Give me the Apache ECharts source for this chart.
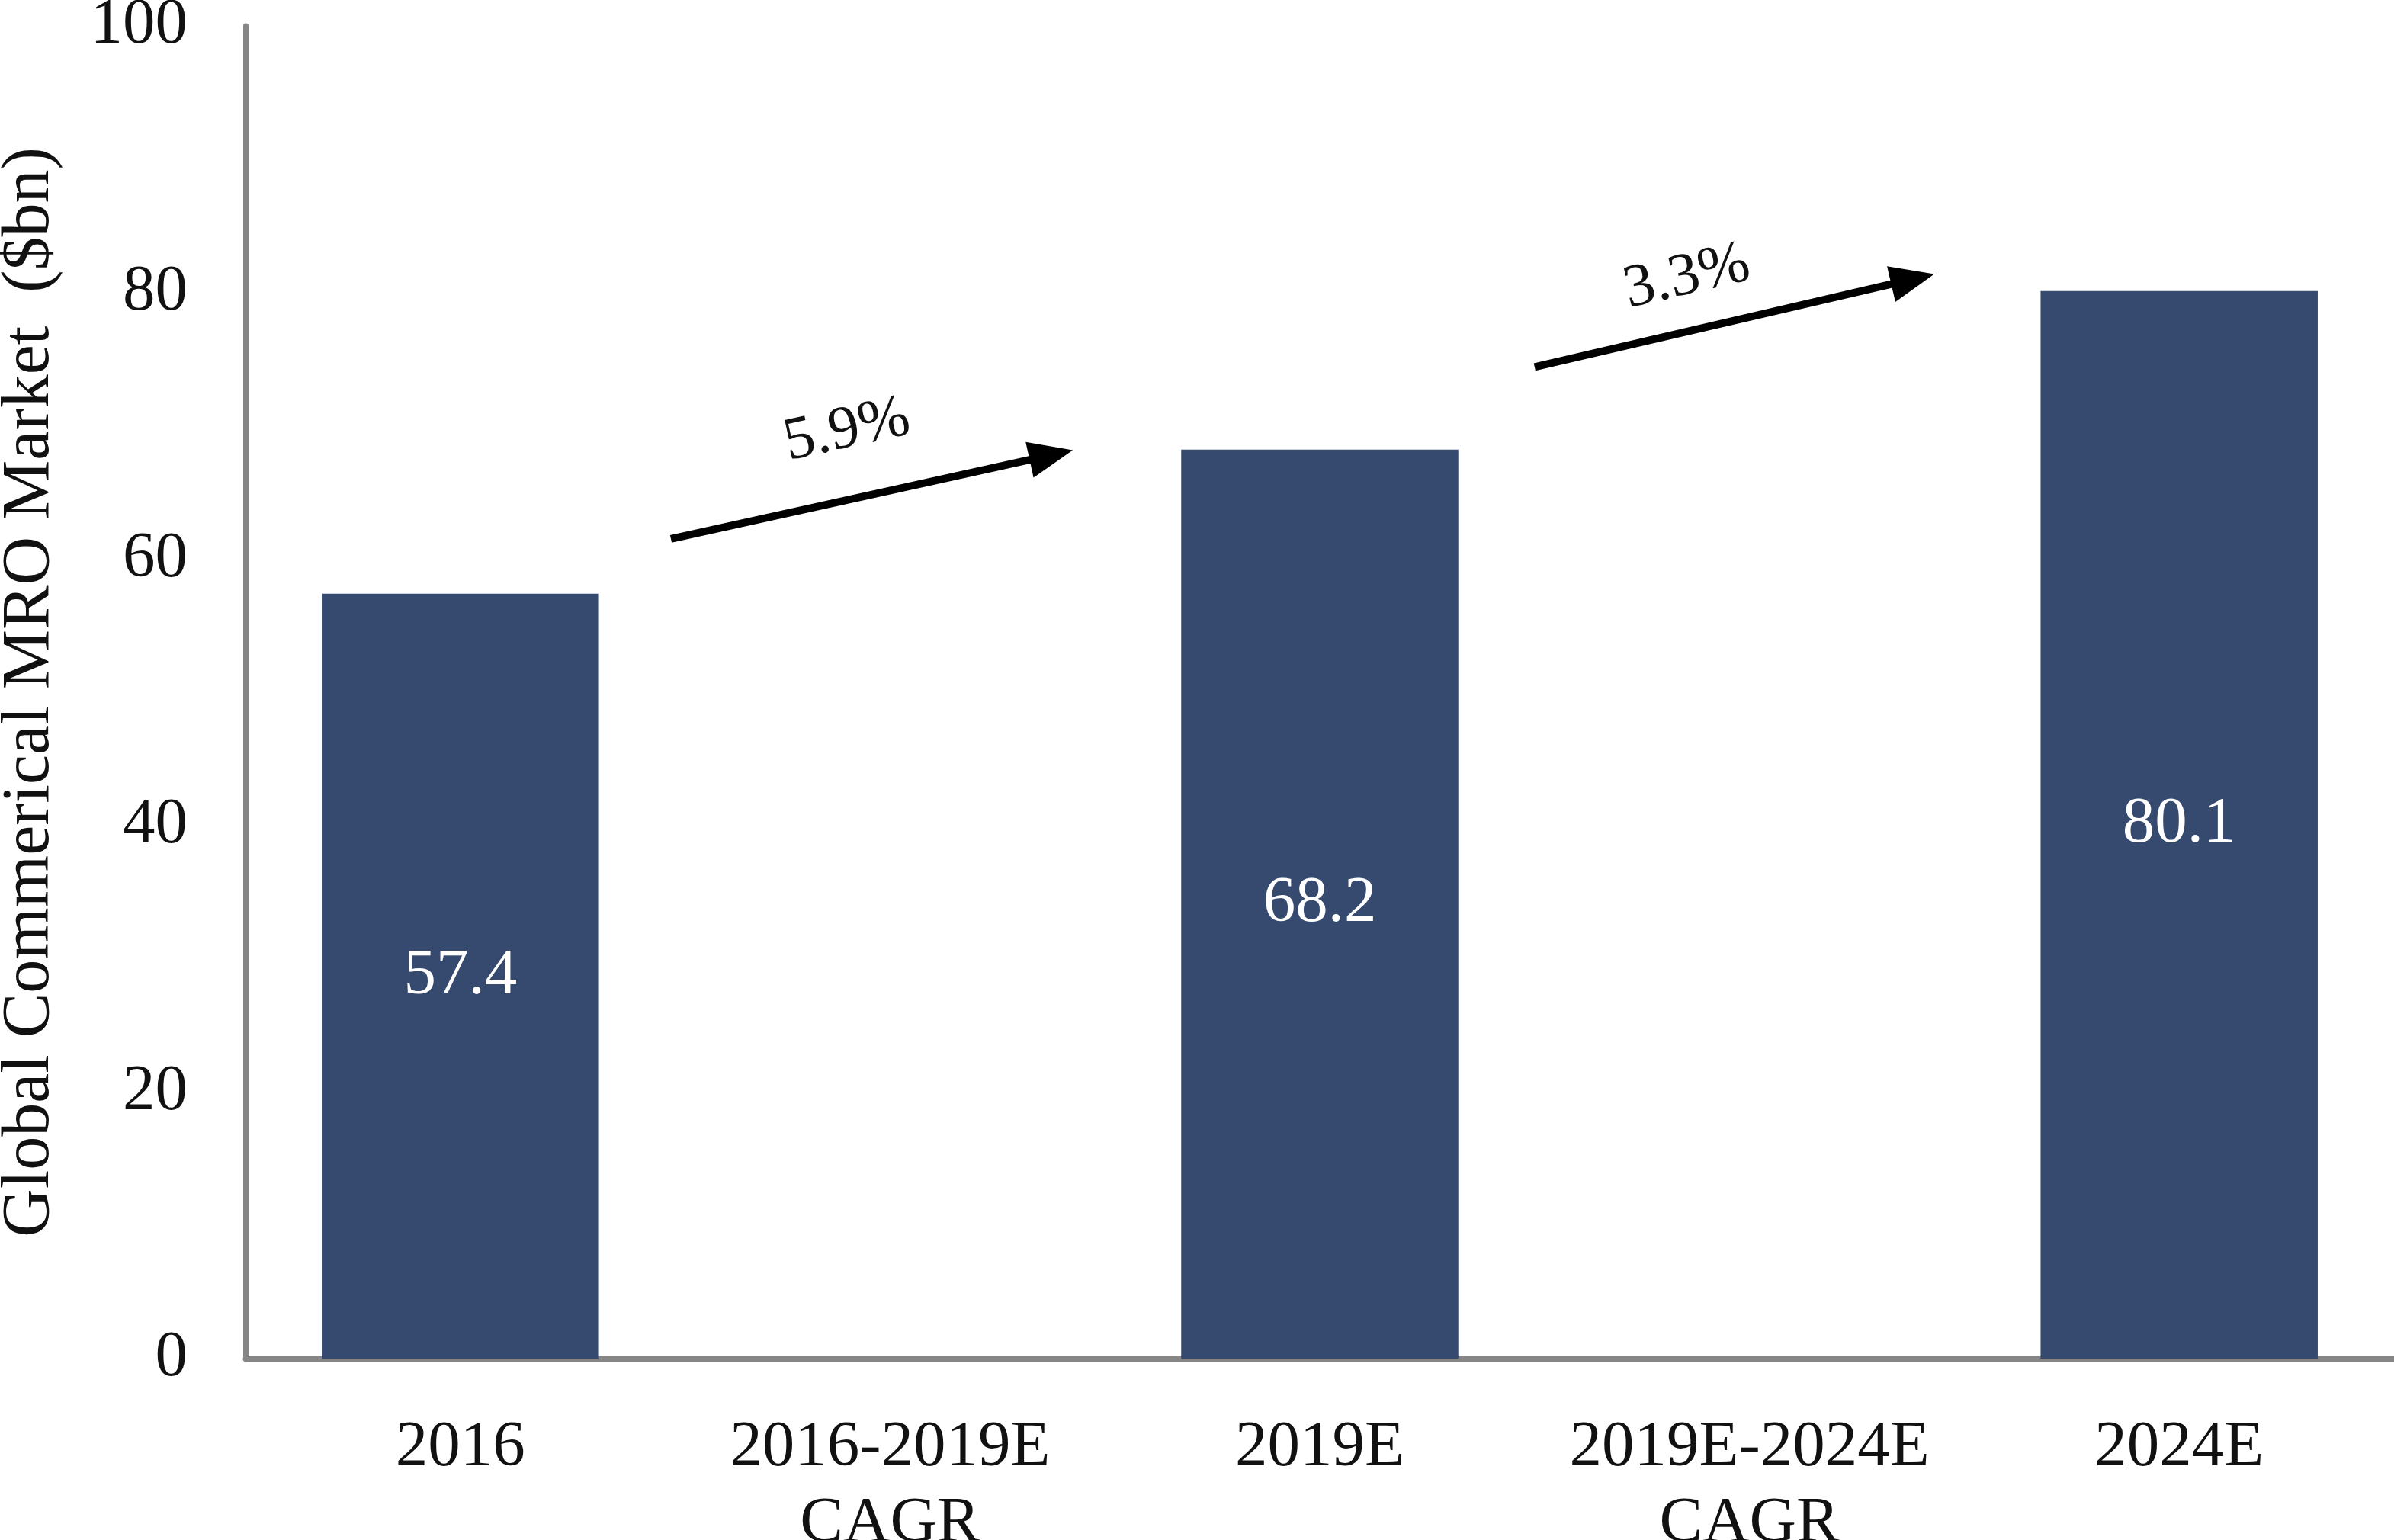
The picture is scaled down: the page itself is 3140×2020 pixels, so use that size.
<!DOCTYPE html>
<html>
	<head>
		<meta charset="utf-8">
		<title>Global Commerical MRO Market</title>
		<script type="text/javascript" src="https://cdn.jsdelivr.net/npm/echarts@6/dist/echarts.min.js"></script>
		<style>
			html, body { margin: 0; padding: 0; background: #ffffff; }
		</style>
	</head>
	<body>
		<div id="mro_chart" style="width:3140px;height:2020px;"></div>
	</body>
	<script type="text/javascript">

// categories on the x axis (CAGR slots carry no bar)
var categories = ['2016', '2016-2019E\nCAGR', '2019E', '2019E-2024E\nCAGR', '2024E'];
// market size, $bn
var marketValues = [57.4, '-', 68.2, '-', 80.1];
// CAGR text over each arrow
var cagrLabels = ['5.9%', '3.3%'];
var yTicks = { min: 0, max: 100, interval: 20 };

// arrow ends in (hidden x 0..5, y value) space
var arrowPaths = [
	[[0.99, 61.5], [1.875, 67.8]],
	[[3.0, 74.4], [3.88, 81.0]]
];
var labelGaps = [50, 30];
var labelShift = [[-10, 0], [-40, 0]];

var fontName = 'Liberation Serif';
var chartDom = document.getElementById('mro_chart');
var myChart = echarts.init(chartDom);

var arrowData = [];
for (var i = 0; i < arrowPaths.length; i++) {
	arrowData.push([
		{ coord: arrowPaths[i][0], label: { formatter: cagrLabels[i], distance: labelGaps[i], offset: labelShift[i] } },
		{ coord: arrowPaths[i][1] }
	]);
}

var option = {
	animation: false,
	backgroundColor: '#ffffff',
	grid: { left: 322, right: 0, top: 34, bottom: 238, containLabel: false, outerBoundsMode: 'none' },
	xAxis: [
		{
			type: 'category',
			data: categories,
			boundaryGap: true,
			axisLine: { show: true, lineStyle: { color: '#868686', width: 7 } },
			axisTick: { show: false },
			axisLabel: {
				color: '#111111',
				fontFamily: fontName,
				fontSize: 85,
				lineHeight: 100,
				margin: 68,
				interval: 0
			}
		},
		{
			// helper axis for the CAGR arrows
			type: 'value',
			min: 0,
			max: 5,
			show: false
		}
	],
	yAxis: {
		type: 'value',
		min: yTicks.min,
		max: yTicks.max,
		interval: yTicks.interval,
		name: 'Global Commerical MRO Market  ($bn)',
		nameLocation: 'middle',
		nameGap: 238,
		nameTextStyle: { color: '#111111', fontFamily: fontName, fontSize: 88 },
		axisLine: { show: true, lineStyle: { color: '#868686', width: 7 } },
		axisTick: { show: false },
		splitLine: { show: false },
		axisLabel: { color: '#111111', fontFamily: fontName, fontSize: 85, margin: 76 }
	},
	series: [
		{
			name: 'MRO market',
			type: 'bar',
			data: marketValues,
			barWidth: '64.5%',
			itemStyle: { color: '#364a6f' },
			label: {
				show: true,
				position: 'inside',
				color: '#ffffff',
				fontFamily: fontName,
				fontSize: 85
			}
		},
		{
			name: 'CAGR arrows',
			type: 'line',
			xAxisIndex: 1,
			yAxisIndex: 0,
			data: [],
			silent: true,
			markLine: {
				silent: true,
				symbol: ['none', 'triangle'],
				symbolSize: [48, 58],
				lineStyle: { color: '#000000', width: 10, type: 'solid' },
				itemStyle: { color: '#000000' },
				label: {
					show: true,
					position: 'middle',
					color: '#111111',
					fontFamily: fontName,
					fontSize: 80
				},
				emphasis: { disabled: true },
				data: arrowData
			}
		}
	]
};

myChart.setOption(option);

	</script>
</html>
